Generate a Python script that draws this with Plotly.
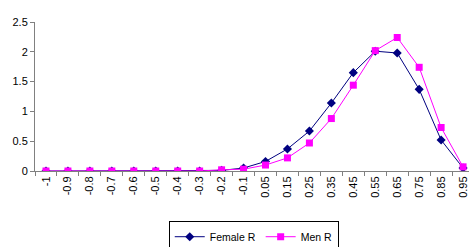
import plotly.graph_objects as go

categories = ["-1", "-0.9", "-0.8", "-0.7", "-0.6", "-0.5", "-0.4", "-0.3", "-0.2", "-0.1",
              "0.05", "0.15", "0.25", "0.35", "0.45", "0.55", "0.65", "0.75", "0.85", "0.95"]
female_r = [0, 0, 0, 0, 0, 0, 0, 0, 0.01, 0.05, 0.16, 0.37, 0.67, 1.14, 1.65, 2.01, 1.98, 1.37, 0.52, 0.05]
men_r = [0, 0, 0, 0, 0, 0, 0, 0, 0.02, 0.03, 0.10, 0.22, 0.47, 0.88, 1.44, 2.02, 2.24, 1.74, 0.73, 0.07]

fig = go.Figure()
fig.add_trace(go.Scatter(x=categories, y=female_r, name="Female R", mode="lines+markers",
                         line=dict(color="#000080", width=1),
                         marker=dict(symbol="diamond", size=7, color="#000080")))
fig.add_trace(go.Scatter(x=categories, y=men_r, name="Men R", mode="lines+markers",
                         line=dict(color="#FF00FF", width=1),
                         marker=dict(symbol="square", size=7, color="#FF00FF")))

fig.update_layout(
    width=469, height=253,
    margin=dict(l=35, r=0, t=21.5, b=76.5),
    paper_bgcolor="white", plot_bgcolor="white",
    font=dict(family="Liberation Sans, Arial", size=11, color="black"),
    showlegend=True,
    legend=dict(orientation="h", x=0.504, xanchor="center", y=-0.337, yanchor="top",
                bordercolor="black", borderwidth=1, font=dict(size=10.5),
                itemsizing="trace", tracegroupgap=0, itemwidth=30),
)
# the original chart is cropped on the right, just past the last category
fig.update_xaxes(type="category", tickangle=-90, showline=True, linecolor="#808080", linewidth=1,
                 ticks="outside", tickson="boundaries", ticklen=4, tickcolor="#808080",
                 showgrid=False, zeroline=False, range=[-0.5, 19.27], tickfont=dict(size=11),
                 automargin=False)
fig.update_yaxes(range=[0, 2.5], dtick=0.5, showline=True, linecolor="#808080", linewidth=1,
                 ticks="outside", ticklen=4, tickcolor="#808080", showgrid=False, zeroline=False,
                 tickfont=dict(size=11), automargin=False)

fig.write_html("out.html", config={"displayModeBar": False},
               post_script="document.body.style.margin='0';document.documentElement.style.overflow='hidden';")
